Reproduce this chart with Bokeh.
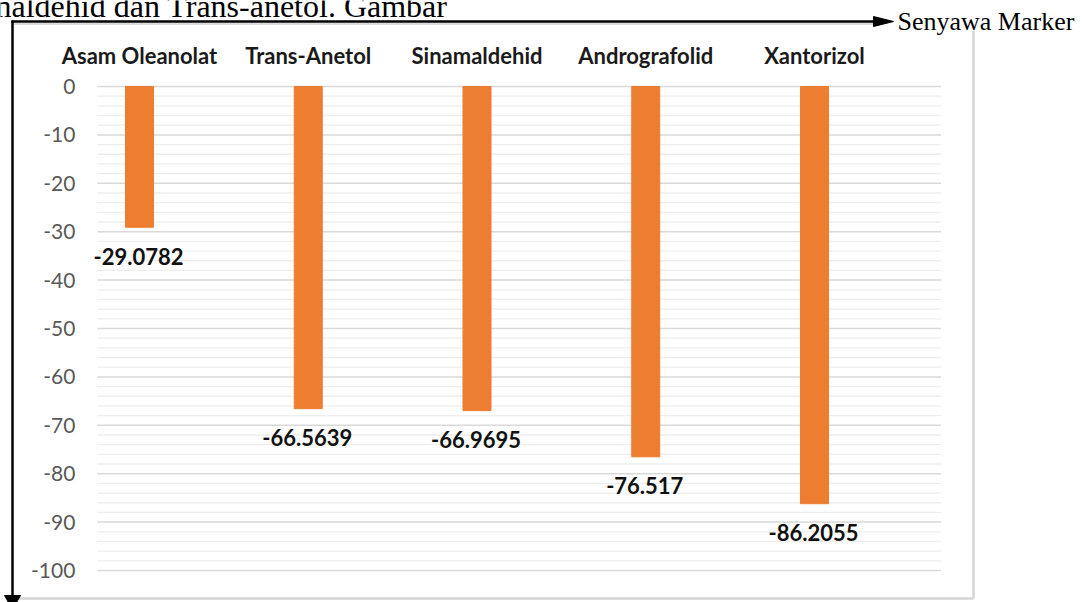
from bokeh.plotting import figure
from bokeh.models import Range1d
from bokeh.embed import file_html
from bokeh.resources import INLINE
from bokeh.core.properties import value

# ---- data ----
categories = ["Asam Oleanolat", "Trans-Anetol", "Sinamaldehid", "Andrografolid", "Xantorizol"]
energies = [-29.0782, -66.5639, -66.9695, -76.517, -86.2055]
energy_labels = ["-29.0782", "-66.5639", "-66.9695", "-76.517", "-86.2055"]
y_ticks = list(range(-100, 1, 10))
y_tick_labels = [str(t) for t in y_ticks]
y_minor = [v for v in range(-100, 1, 2) if v % 10 != 0]
axis_title = "Senyawa Marker"
caption = "naldehid dan Trans-anetol. Gambar"

# ---- layout ----
W, H = 1088, 602
xs = list(range(len(categories)))
X_LO, X_HI = -0.25, len(categories) - 0.25      # plot-area edges in category units
Y_LO, Y_HI = -100, 0

p = figure(width=W, height=H, output_backend="svg", toolbar_location=None,
           x_range=Range1d(-0.8237, 5.6237), y_range=Range1d(-106.612, 17.769),
           min_border=0, x_axis_location=None, y_axis_location=None)
p.outline_line_color = None
p.xgrid.visible = False
p.ygrid.visible = False
p.background_fill_color = "white"
p.border_fill_color = "white"

# pixel ranges for the page decorations
p.extra_x_ranges = {"px": Range1d(0, W)}
p.extra_y_ranges = {"py": Range1d(H, 0)}

# gridlines
p.segment(x0=X_LO, x1=X_HI, y0=y_minor, y1=y_minor, line_color="#eeeeee", line_width=1.3)
p.segment(x0=X_LO, x1=X_HI, y0=y_ticks, y1=y_ticks, line_color="#d9d9d9", line_width=1.5)

# y tick labels
p.text(x=X_LO, y=y_ticks, text=y_tick_labels, x_offset=-22, text_align="right",
       text_baseline="middle", text_font=value("Lato"), text_font_size="21px",
       text_color="#595959")

# category labels (above)
p.text(x=xs, y=Y_HI, text=categories, y_offset=-31, text_align="center",
       text_baseline="middle", text_font=value("Lato"), text_font_style="bold",
       text_font_size="22px", text_color="#1a1a1a")

# bars
p.vbar(x=xs, top=0, bottom=energies, width=0.166, fill_color="#ED7D31", line_color="#ED7D31")

# value labels
p.text(x=xs, y=energies, text=energy_labels, y_offset=29, x_offset=-1, text_align="center",
       text_baseline="middle", text_font=value("Lato"), text_font_style="bold",
       text_font_size="22px", text_color="#111111")

# ---- decorations in page pixels ----
kw = dict(x_range_name="px", y_range_name="py")
# light gray frame of the chart box
p.line(x=[973, 973], y=[30, 598], line_color="#d4d4d4", line_width=2.5, **kw)
p.line(x=[12, 973], y=[598, 598], line_color="#d4d4d4", line_width=2.5, **kw)
p.line(x=[13, 880], y=[23.5, 23.5], line_color="#cfcfcf", line_width=1.5, **kw)
# black arrows
p.line(x=[11, 878], y=[21, 21], line_color="black", line_width=2.5, **kw)
p.line(x=[12, 12], y=[20, 597], line_color="black", line_width=2.5, **kw)
p.patches(xs=[[873, 893, 873], [4, 20, 12]], ys=[[16, 21, 26], [595, 595, 609]],
          fill_color="black", line_color="black", **kw)
# texts
p.text(x=[897], y=[21], text=[axis_title], text_align="left", text_baseline="middle",
       text_font=value("Liberation Serif"), text_font_size="26px", text_color="black", **kw)
p.text(x=[-5], y=[5], text=[caption], text_align="left", text_baseline="alphabetic",
       text_font=value("Liberation Serif"), text_font_size="32px", text_color="black", **kw)

open("out.html", "w").write(file_html(p, INLINE))
